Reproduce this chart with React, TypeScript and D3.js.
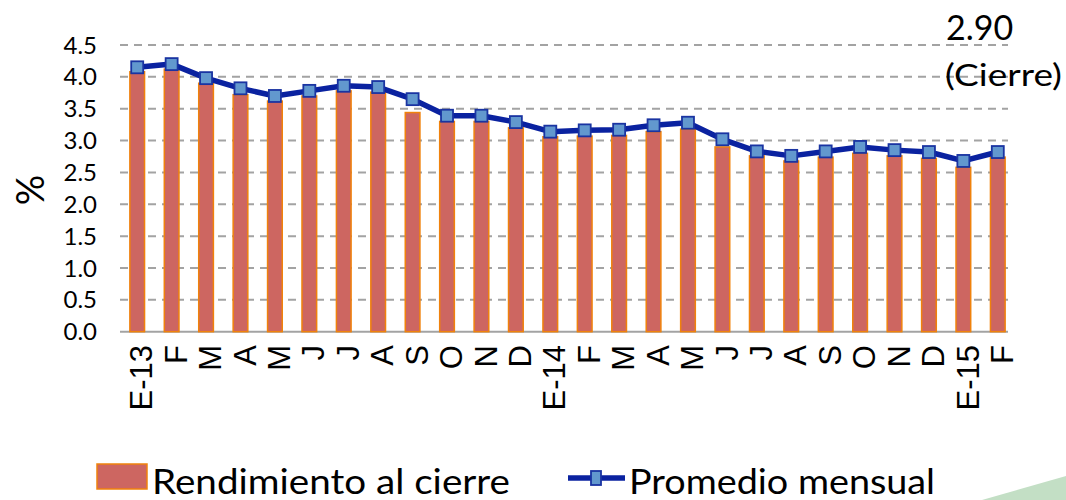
import * as d3 from 'd3';

// months, Jan 2013 .. Feb 2015
const categories = ['E-13', 'F', 'M', 'A', 'M', 'J', 'J', 'A', 'S', 'O', 'N', 'D',
  'E-14', 'F', 'M', 'A', 'M', 'J', 'J', 'A', 'S', 'O', 'N', 'D', 'E-15', 'F'];

// Rendimiento al cierre (bars)
const closeValues = [4.08, 4.12, 3.90, 3.72, 3.62, 3.70, 3.78, 3.76, 3.44, 3.30, 3.30, 3.20,
  3.06, 3.07, 3.08, 3.14, 3.18, 2.90, 2.76, 2.68, 2.74, 2.80, 2.76, 2.72, 2.58, 2.74];

// Promedio mensual (line)
const avgValues = [4.15, 4.20, 3.98, 3.82, 3.70, 3.78, 3.86, 3.84, 3.65, 3.39, 3.39, 3.29,
  3.14, 3.16, 3.17, 3.24, 3.28, 3.02, 2.83, 2.76, 2.83, 2.90, 2.85, 2.82, 2.68, 2.82];

const yTicks = [0, 0.5, 1, 1.5, 2, 2.5, 3, 3.5, 4, 4.5];
const annotation = ['2.90', '(Cierre)'];
const legendLabels = ['Rendimiento al cierre', 'Promedio mensual'];

const W = 1066;
const H = 500;
const barFill = '#cd6661';
const barStroke = '#f0820c';
const lineColor = '#0a22a0';
const markerFill = '#6298ce';
const markerStroke = '#1a34a2';
const font = 'Lato, "Open Sans", sans-serif';

export default function App() {
  const idx = categories.map((_, i) => i);
  const x = d3.scaleBand<number>().domain(idx).range([120, 1015]).paddingInner(0.53).paddingOuter(0.265);
  const y = d3.scaleLinear().domain([0, 4.5]).range([331.7, 45]);
  const cx = (i: number) => (x(i) as number) + x.bandwidth() / 2;

  const line = d3.line<number>()
    .x((_, i) => cx(i))
    .y(d => y(d));

  const ms = 12;

  return (
    <svg width={W} height={H} viewBox={`0 0 ${W} ${H}`}
      style={{ position: 'absolute', left: 0, top: 0, display: 'block', background: '#fff' }}>
      {/* decorative green corner */}
      <polygon points={`982,${H} ${W},476 ${W},${H}`} fill="#c3dfc5" />

      {/* grid */}
      {yTicks.filter(t => t > 0).map(t => (
        <line key={t} x1={120} x2={1008} y1={y(t)} y2={y(t)}
          stroke="#a3a3a3" strokeWidth={2} strokeDasharray="8,6" />
      ))}
      <line x1={120} x2={1008} y1={y(0)} y2={y(0)} stroke="#a3a3a3" strokeWidth={2} />

      {/* y tick labels */}
      {yTicks.map(t => (
        <text key={t} x={97} y={y(t)} dy="0.36em" textAnchor="end"
          fontFamily={font} fontSize={24} fill="#000">{t.toFixed(1)}</text>
      ))}
      <text transform={`translate(44,190) rotate(-90)`} textAnchor="middle"
        fontFamily={font} fontSize={38} fill="#000">%</text>

      {/* bars */}
      {closeValues.map((v, i) => (
        <rect key={i} x={(x(i) as number) + 0.75} y={y(v)} width={x.bandwidth() - 1.5}
          height={y(0) - y(v)} fill={barFill} stroke={barStroke} strokeWidth={1.5} />
      ))}

      {/* line + markers */}
      <path d={line(avgValues) ?? ''} fill="none" stroke={lineColor} strokeWidth={5.5}
        strokeLinejoin="round" />
      {avgValues.map((v, i) => (
        <rect key={i} x={cx(i) - ms / 2} y={y(v) - ms / 2} width={ms} height={ms}
          fill={markerFill} stroke={markerStroke} strokeWidth={1.8} />
      ))}

      {/* x labels */}
      {categories.map((c, i) => (
        <text key={i} transform={`translate(${cx(i) + 4},345) rotate(-90)`}
          textAnchor="end" dy="0.36em" fontFamily='"Liberation Sans", Arial, sans-serif'
          fontSize={31} fill="#000">{c}</text>
      ))}

      {/* annotation */}
      <text x={946} y={40} fontFamily={font} fontSize={34} fill="#000">{annotation[0]}</text>
      <text x={945} y={86} fontFamily={font} fontSize={30} fill="#000"
        textLength={117} lengthAdjust="spacingAndGlyphs">{annotation[1]}</text>

      {/* legend */}
      <rect x={97} y={464} width={50} height={25} fill={barFill} stroke={barStroke} strokeWidth={1.5} />
      <text x={152} y={494} fontFamily={font} fontSize={34} fill="#000"
        textLength={358} lengthAdjust="spacingAndGlyphs">{legendLabels[0]}</text>
      <line x1={568} x2={625} y1={478} y2={478} stroke={lineColor} strokeWidth={5.5} />
      <rect x={591} y={471} width={10} height={14} fill={markerFill} stroke={markerStroke} strokeWidth={1.8} />
      <text x={629} y={494} fontFamily={font} fontSize={34} fill="#000"
        textLength={306} lengthAdjust="spacingAndGlyphs">{legendLabels[1]}</text>
    </svg>
  );
}
